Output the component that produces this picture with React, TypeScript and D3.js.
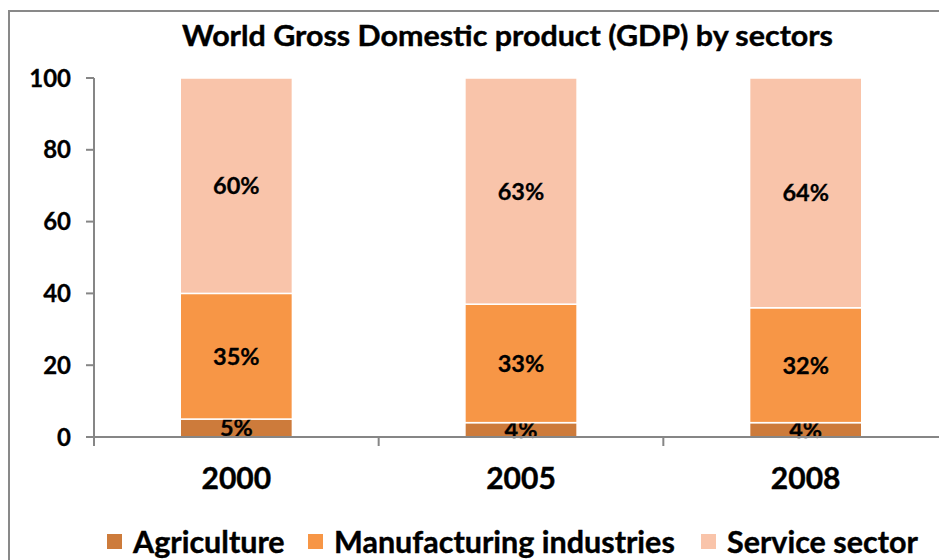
import React from "react";
import * as d3 from "d3";

const years = ["2000", "2005", "2008"];
const agriculture = [5, 4, 4];
const manufacturing = [35, 33, 32];
const service = [60, 63, 64];
const seriesNames = ["Agriculture", "Manufacturing industries", "Service sector"];
const yTicks = [0, 20, 40, 60, 80, 100];

const colors = ["#CD7B3B", "#F79646", "#F9C4AA"];
const FONT = "Lato, 'Open Sans', sans-serif";

export default function App() {
  const W = 939, H = 560;
  const left = 94, right = 948, top = 78, bottom = 437;
  const x = d3.scaleBand<string>().domain(years).range([left, right]).paddingInner(0.606).paddingOuter(0.303);
  const y = d3.scaleLinear().domain([0, 100]).range([bottom, top]);
  const table = years.map((yr, i) => ({ year: yr, a: agriculture[i], m: manufacturing[i], s: service[i] }));
  const stack = d3.stack<any>().keys(["a", "m", "s"])(table);
  const boundaries = [left, ...years.map((yr) => (x(yr)! + x.bandwidth() + x.step() * 0.303))];
  const legendX = [107, 308, 701];

  return (
    <svg width={W} height={H} style={{ position: "absolute", left: 0, top: 0 }} fontFamily={FONT}>
      <rect x={0} y={0} width={W} height={H} fill="#fff" />
      <rect x={9} y={11} width={980} height={600} fill="#fff" stroke="#898989" strokeWidth={2} />
      <text x={507.5} y={46} textAnchor="middle" fontSize={29} fontWeight="bold" fill="#000" stroke="#000" strokeWidth={0.4}
        textLength={651} lengthAdjust="spacingAndGlyphs">
        World Gross Domestic product (GDP) by sectors
      </text>
      {stack.map((layer, li) =>
        layer.map((d, i) => {
          const x0 = x(years[i])!;
          const y0 = y(d[1]);
          const h = y(d[0]) - y(d[1]);
          return (
            <g key={`${li}-${i}`}>
              <rect x={x0} y={y0} width={x.bandwidth()} height={h} fill={colors[li]} stroke="#fff" strokeWidth={1.5} />
              <text x={x0 + x.bandwidth() / 2} y={y0 + h / 2} dy="0.36em" textAnchor="middle" fontSize={23.5} fontWeight="bold" fill="#000" stroke="#000" strokeWidth={0.3}>
                {`${d[1] - d[0]}%`}
              </text>
            </g>
          );
        })
      )}
      {/* Y axis */}
      <line x1={left} x2={left} y1={top} y2={bottom} stroke="#868686" strokeWidth={2} />
      {yTicks.map((t) => (
        <g key={t}>
          <line x1={left - 8} x2={left} y1={y(t)} y2={y(t)} stroke="#868686" strokeWidth={2} />
          <text x={71} y={y(t)} dy="0.36em" textAnchor="end" fontSize={24} fontWeight="bold" fill="#000" stroke="#000" strokeWidth={0.3}>
            {t}
          </text>
        </g>
      ))}
      {/* X axis */}
      <line x1={left} x2={right} y1={bottom} y2={bottom} stroke="#868686" strokeWidth={2} />
      {boundaries.map((b, i) => (
        <line key={i} x1={b} x2={b} y1={bottom} y2={bottom + 9} stroke="#868686" strokeWidth={2} />
      ))}
      {years.map((yr) => (
        <text key={yr} x={x(yr)! + x.bandwidth() / 2} y={478} dy="0.36em" textAnchor="middle" fontSize={30} fontWeight="bold" fill="#000" stroke="#000" strokeWidth={0.4}>
          {yr}
        </text>
      ))}
      {/* Legend */}
      {seriesNames.map((n, i) => (
        <g key={n}>
          <rect x={legendX[i]} y={534} width={15} height={15} fill={colors[i]} />
          <text x={legendX[i] + 26} y={542} dy="0.36em" fontSize={30.5} fontWeight="bold" fill="#000" stroke="#000" strokeWidth={0.4}>
            {n}
          </text>
        </g>
      ))}
    </svg>
  );
}
